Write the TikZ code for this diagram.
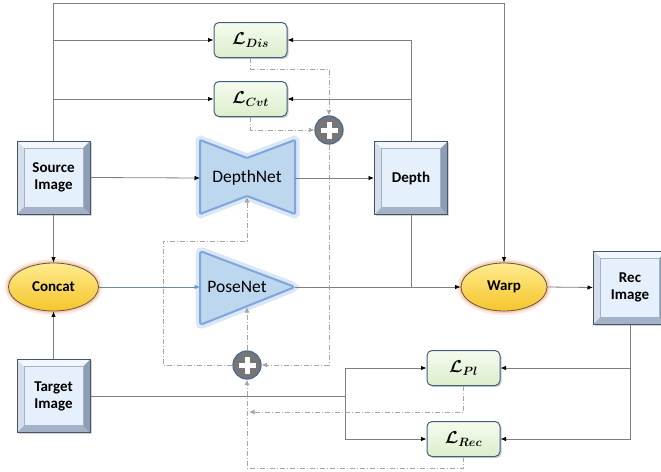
\documentclass[tikz,border=0pt]{standalone}
\usepackage{fontspec}
\setmainfont{Carlito}
\usepackage{bm}
\usetikzlibrary{shapes.geometric,arrows.meta,shadows}
\definecolor{ln}{HTML}{7F7F7F}
\definecolor{dl}{HTML}{A6A6A6}
\definecolor{imgfill}{HTML}{E6EFFC}
\definecolor{imgborder}{HTML}{44546A}
\definecolor{bevlight}{HTML}{F3F7FD}
\definecolor{bevmid}{HTML}{D5DFEC}
\definecolor{bevdark}{HTML}{A3B2C6}
\definecolor{bevdarker}{HTML}{8D9DB3}
\definecolor{lossborder}{HTML}{41607F}
\definecolor{losstop}{HTML}{F6FBEF}
\definecolor{lossbot}{HTML}{DCEECB}
\definecolor{ylwtop}{HTML}{FFEB8F}
\definecolor{ylwbot}{HTML}{F5C52A}
\definecolor{glowor}{HTML}{F7A878}
\definecolor{netfill}{HTML}{BDD7EE}
\definecolor{netedge}{HTML}{7EA6DC}
\definecolor{netglow}{HTML}{B4CFF0}
\definecolor{plusfill}{HTML}{767676}
\definecolor{plusedge}{HTML}{4E6E91}
\definecolor{bluearr}{HTML}{5B9BD5}
\newcommand{\losslabel}[1]{$\mathcal{L}_{\mbox{\fontsize{11.5}{13}\selectfont$#1$}}$}
\begin{document}
\begin{tikzpicture}[x=1pt,y=-1pt,
  line/.style={draw=ln, line width=0.8pt},
  arr/.style={line, -{Latex[length=5.5pt,width=4.5pt,color=black]}},
  dsh/.style={draw=dl, line width=0.8pt, dash pattern=on 5pt off 2pt on 1pt off 2pt},
  dsharr/.style={dsh, -{Latex[length=5.5pt,width=5pt]}},
  imgbox/.style={rectangle, minimum width=73pt, minimum height=73pt, inner sep=0pt,
    fill=imgfill, draw=imgborder, line width=1pt, align=center,
    font=\bfseries\fontsize{15}{17}\selectfont,
    drop shadow={shadow xshift=1.5pt, shadow yshift=-1.5pt, opacity=0.35},
    path picture={
      \coordinate (nw) at (path picture bounding box.north west);
      \coordinate (ne) at (path picture bounding box.north east);
      \coordinate (sw) at (path picture bounding box.south west);
      \coordinate (se) at (path picture bounding box.south east);
      \fill[bevlight] (nw) -- (ne) -- ([shift={(-7pt,-7pt)}]ne) -- ([shift={(7pt,-7pt)}]nw) -- cycle;
      \fill[bevmid] (nw) -- (sw) -- ([shift={(7pt,7pt)}]sw) -- ([shift={(7pt,-7pt)}]nw) -- cycle;
      \fill[bevdark] (sw) -- (se) -- ([shift={(-7pt,7pt)}]se) -- ([shift={(7pt,7pt)}]sw) -- cycle;
      \fill[bevdarker] (ne) -- (se) -- ([shift={(-7pt,7pt)}]se) -- ([shift={(-7pt,-7pt)}]ne) -- cycle;
      \draw[bevdark, line width=0.6pt] ([shift={(7pt,-7pt)}]nw) rectangle ([shift={(-7pt,7pt)}]se);
    }},
  lossbox/.style={rectangle, rounded corners=5pt, minimum width=73pt, minimum height=35pt,
    inner sep=0pt, top color=losstop, bottom color=lossbot, draw=lossborder, line width=1pt,
    font=\boldmath\fontsize{16}{18}\selectfont,
    drop shadow={shadow xshift=1.5pt, shadow yshift=-1.5pt, opacity=0.4}},
  ell/.style={ellipse, minimum width=90pt, minimum height=48pt, inner sep=0pt,
    top color=ylwtop, bottom color=ylwbot, draw=black!65, line width=0.8pt,
    font=\bfseries\fontsize{15}{17}\selectfont,
    preaction={draw=glowor, line width=8pt, opacity=0.25},
    preaction={draw=glowor, line width=4pt, opacity=0.45}},
  plus/.style={circle, minimum size=28pt, inner sep=0pt, fill=plusfill, draw=plusedge, line width=1.3pt,
    path picture={
      \draw[white, line width=5pt] ([xshift=-8.5pt]path picture bounding box.center) -- ([xshift=8.5pt]path picture bounding box.center);
      \draw[white, line width=5pt] ([yshift=-8.5pt]path picture bounding box.center) -- ([yshift=8.5pt]path picture bounding box.center);
    }},
  net/.style={fill=netfill, draw=netedge, line width=2pt, line join=round,
    preaction={draw=netglow, line width=9pt, opacity=0.5}},
  nettext/.style={font=\fontsize{17.5}{20}\selectfont, inner sep=0pt}
]
\useasboundingbox (0,0) rectangle (661,471);

% networks (shapes drawn directly)
\draw[net, rounded corners=1pt] (200,140) -- (247,158) -- (295,140) -- (295,214) -- (247,196) -- (200,214) -- cycle;
\draw[net, rounded corners=3pt] (200,251) -- (295,287) -- (200,325) -- cycle;
\node[nettext] (dn) at (247,178) {DepthNet};
\node[nettext] (pn) at (237,287) {PoseNet};
\coordinate (dnW) at (200,178);
\coordinate (dnE) at (295,178);
\coordinate (dnS) at (247,197);
\coordinate (pnW) at (200,287);
\coordinate (pnE) at (295,287);
\coordinate (pnS) at (247,307);

% nodes
\node[imgbox] (src) at (53.5,177.5) {Source\\Image};
\node[imgbox] (tgt) at (53.5,396) {Target\\Image};
\node[imgbox] (dep) at (411,178) {Depth};
\node[imgbox] (rec) at (630,287.5) {Rec\\Image};
\node[lossbox] (ldis) at (250.5,40) {\losslabel{Dis}};
\node[lossbox] (lcvt) at (250.5,99) {\losslabel{Cvt}};
\node[lossbox] (lpl) at (463.5,368) {\losslabel{Pl}};
\node[lossbox] (lrec) at (463.5,439) {\losslabel{Rec}};
\node[ell] (cat) at (53.5,287) {Concat};
\node[ell, minimum width=86pt] (warp) at (504,287) {Warp};
\node[plus] (p1) at (329,130) {};
\node[plus] (p2) at (247,365) {};

% helper coordinates
\coordinate (tl) at (53.5,3);
\coordinate (tj) at (345,396);
\coordinate (d1) at (329,69);
\coordinate (lpA) at (163,241);
\coordinate (dj) at (249,412);
\coordinate (db) at (247,468);

% solid connectors
\draw[arr] (src.north) -- (tl) -| (warp.north);
\draw[arr] (src.north |- ldis.west) -- (ldis.west);
\draw[arr] (src.north |- lcvt.west) -- (lcvt.west);
\draw[arr] (src.east) -- (dnW);
\draw[arr] (dnE) -- (dep.west);
\draw[arr] (dep.north) |- (ldis.east);
\draw[arr] (dep.north |- lcvt.east) -- (lcvt.east);
\draw[arr] (src.south) -- (cat.north);
\draw[arr] (tgt.north) -- (cat.south);
\draw[draw=ln!70!bluearr, line width=0.8pt, -{Latex[length=5.5pt,width=4.5pt,color=bluearr]}] (cat.east) -- (pnW);
\draw[arr] (pnE) -- (warp.west);
\draw[line] (dep.south) -- (dep.south |- warp.west);
\draw[arr] (warp.east) -- (rec.west);
\draw[arr] (rec.south) |- (lrec.east);
\draw[arr] (rec.south |- lpl.east) -- (lpl.east);
\draw[line] (tgt.east) -- (tj);
\draw[arr] (tj) |- (lpl.west);
\draw[arr] (tj) |- (lrec.west);

% dashed connectors
\draw[dsharr] (ldis.south) |- (d1) -- (p1.north);
\draw[dsharr] (lcvt.south) |- (p1.west);
\draw[dsharr] (p1.south) |- (p2.east);
\draw[dsharr] (p2.north) -- (pnS);
\draw[dsharr] (p2.west) -| (lpA) -| (dnS);
\draw[dsharr] (lpl.south) |- (dj);
\draw[dsharr] (lrec.south) |- (db) -- (p2.south);
\end{tikzpicture}
\end{document}
